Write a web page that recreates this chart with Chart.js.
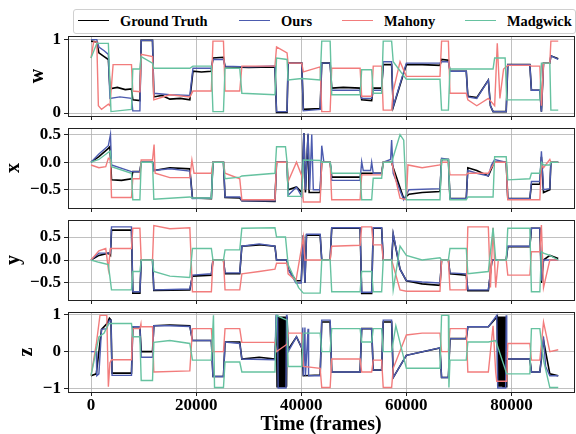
<!DOCTYPE html>
<html><head><meta charset="utf-8">
<script src="https://cdn.jsdelivr.net/npm/chart.js@4.4.1/dist/chart.umd.min.js"></script>
<style>
html,body{margin:0;padding:0;background:#fff;}
#wrap{position:relative;width:576px;height:434px;overflow:hidden;background:#fff;}
#wrap canvas{position:absolute;left:0;top:0;}
.legbox{position:absolute;left:73px;top:9px;width:503px;height:25px;border:1px solid #d0d0d0;border-radius:3px;background:#fff;box-sizing:border-box;}
.ls{position:absolute;height:0;border-top:1.3px solid;top:20px;width:31px;}
.lt{position:absolute;top:12px;font:bold 14.4px "Liberation Serif","Times New Roman",serif;line-height:18px;white-space:nowrap;color:#000;}
</style></head>
<body><div id="wrap">
<div class="legbox"></div>
<div class="ls" style="left:78px;border-color:#000000"></div><div class="lt" style="left:120px">Ground Truth</div>
<div class="ls" style="left:239px;border-color:#4C5BAF"></div><div class="lt" style="left:281px">Ours</div>
<div class="ls" style="left:342px;border-color:#F27C7C"></div><div class="lt" style="left:384px">Mahony</div>
<div class="ls" style="left:465px;border-color:#66C2A0"></div><div class="lt" style="left:507px">Madgwick</div>
</div>
<script>
const seriesNames = ['Ground Truth','Ours','Mahony','Madgwick'];
const seriesColors = ['#000000','#4C5BAF','#F27C7C','#66C2A0'];
const xTickValues = [0,20000,40000,60000,80000];
const xTickLabels = ['0','20000','40000','60000','80000'];
const wTickValues = [0,1]; const wTickLabels = ['0','1'];
const xqTickValues = [-0.5,0,0.5]; const xqTickLabels = ['\u22120.5','0.0','0.5'];
const yqTickValues = [-0.5,0,0.5]; const yqTickLabels = ['\u22120.5','0.0','0.5'];
const zTickValues = [-1,0,1]; const zTickLabels = ['\u22121','0','1'];

// ---- w component: [frame, value]
const wGroundTruth = [[0,0.98],[1100,0.97],[1500,0.82],[2500,0.77],[3300,0.73],[3600,0.33],[5000,0.35],[6500,0.32],[7700,0.33],[7950,0.18],[9300,0.17],[9550,0.99],[11700,0.99],[11950,0.22],[13500,0.24],[15000,0.19],[17000,0.2],[18800,0.18],[19400,0.57],[21000,0.56],[22900,0.57],[23200,0.75],[25200,0.76],[25500,0.63],[30000,0.62],[35000,0.63],[35300,0.01],[37300,0.01],[37500,0.68],[40100,0.68],[40400,0.05],[43600,0.06],[43900,0.68],[45500,0.68],[45800,0.34],[48000,0.35],[51200,0.34],[51500,0.18],[53400,0.17],[53700,0.34],[55300,0.34],[55600,0.66],[57200,0.66],[57500,0.08],[60000,0.66],[63000,0.66],[66400,0.65],[66700,0.73],[68000,0.72],[68300,0.57],[71400,0.57],[71700,0.23],[73400,0.21],[75600,0.45],[76000,0.1],[76500,0.02],[79000,0.02],[79300,0.66],[83500,0.66],[83800,0.31],[85400,0.31],[85700,0.02],[86100,0.68],[87300,0.68],[87500,0.78],[88900,0.74]];
const wOurs = [[0,1.0],[1100,1.0],[1500,0.9],[2500,0.85],[3300,0.8],[3600,0.2],[5500,0.22],[7700,0.2],[7950,0.03],[9300,0.03],[9550,0.99],[11700,0.99],[11950,0.27],[15000,0.25],[18800,0.24],[19400,0.61],[22900,0.61],[23200,0.73],[25200,0.73],[25500,0.64],[30000,0.63],[35000,0.64],[35300,0.02],[37300,0.02],[37500,0.68],[40100,0.68],[40400,0.03],[43600,0.05],[43900,0.68],[45500,0.68],[45800,0.31],[51200,0.31],[51500,0.2],[53400,0.2],[53700,0.31],[55300,0.31],[55600,0.7],[57200,0.7],[57500,0.09],[60000,0.68],[66400,0.68],[66700,0.7],[68000,0.7],[68300,0.57],[71400,0.57],[71700,0.22],[73400,0.2],[75600,0.45],[76000,0.1],[76500,0.02],[79000,0.02],[79300,0.66],[83500,0.66],[83800,0.31],[85400,0.31],[85700,0.02],[86100,0.68],[87300,0.68],[87500,0.78],[88900,0.73]];
const wMahony = [[0,0.75],[500,0.97],[1100,0.97],[1400,0.1],[2000,0.05],[3300,0.12],[3600,0.1],[4200,0.66],[7700,0.66],[7950,0.3],[9300,0.29],[9550,0.8],[11700,0.77],[11950,0.18],[15000,0.25],[18800,0.22],[19400,0.3],[22900,0.3],[23200,0.98],[25200,0.98],[25500,0.3],[28300,0.3],[28700,0.64],[35000,0.64],[35300,0.9],[37300,0.82],[37500,0.68],[40100,0.68],[40400,0.56],[43600,0.63],[43900,0.02],[45500,0.02],[45800,0.61],[51200,0.61],[51500,0.23],[53400,0.23],[53700,0.64],[55300,0.64],[55600,0.04],[57200,0.04],[57500,0.3],[58800,0.7],[60000,0.5],[66400,0.5],[66700,0.98],[68000,0.98],[68300,0.27],[71400,0.27],[71700,0.18],[73400,0.1],[75600,0.2],[76800,0.1],[77300,0.95],[77800,0.2],[78500,0.6],[79300,0.65],[83500,0.65],[83800,0.64],[85400,0.64],[85700,0.1],[86100,0.68],[87300,0.68],[87500,0.98],[88900,0.98]];
const wMadgwick = [[0,0.75],[1100,0.95],[3300,0.95],[3800,0.02],[7700,0.05],[7950,0.6],[9300,0.6],[9550,0.77],[11700,0.68],[11950,0.61],[18800,0.61],[19400,0.64],[22900,0.64],[23200,0.02],[25200,0.02],[25500,0.61],[28300,0.61],[28700,0.27],[35000,0.25],[35300,0.75],[37300,0.73],[37500,0.45],[40100,0.47],[43600,0.45],[43900,0.98],[45500,0.98],[45800,0.25],[51200,0.25],[51500,0.59],[53400,0.59],[53700,0.27],[55300,0.27],[55600,0.98],[57200,0.98],[57500,0.7],[60000,0.46],[66400,0.46],[66700,0.04],[68000,0.04],[68300,0.6],[76500,0.6],[76800,0.75],[78800,0.75],[79100,0.18],[85400,0.18],[85700,0.68],[87300,0.68],[87500,0.04],[88900,0.04]];

// ---- x component
const xGroundTruth = [[0,0],[1500,0.1],[3300,0.25],[3600,0.28],[3900,-0.32],[5800,-0.33],[7700,-0.3],[7950,-0.17],[9300,-0.17],[9550,0],[11700,0],[11950,-0.15],[15000,-0.1],[18800,-0.12],[19300,-0.65],[22900,-0.66],[23200,0],[25200,0],[25500,-0.64],[28300,-0.65],[28700,-0.7],[35000,-0.71],[35300,0],[37300,0],[37500,-0.5],[39100,-0.45],[40100,-0.55],[40500,0.53],[40800,-0.55],[41300,0.5],[41500,-0.55],[43600,-0.55],[43900,0],[45500,0],[45800,-0.27],[51200,-0.27],[51500,-0.2],[55300,-0.2],[55600,0],[57200,0],[57500,-0.1],[59500,-0.66],[60500,-0.58],[63000,-0.55],[66400,-0.53],[66700,0.05],[68000,0.05],[68300,-0.66],[71400,-0.66],[71700,-0.1],[73400,-0.15],[75600,-0.25],[76500,-0.05],[76800,0.0],[79000,0.0],[79300,-0.66],[83500,-0.66],[83800,-0.4],[85400,-0.4],[85700,0.1],[86100,-0.55],[87300,-0.5],[87500,0.0],[88900,0.0]];
const xOurs = [[0,0],[1500,0.15],[3300,0.3],[3700,0.5],[3900,-0.05],[7700,-0.17],[9300,-0.17],[9550,0],[11700,0],[11950,-0.15],[15000,-0.12],[18800,-0.16],[19300,-0.66],[22900,-0.65],[23200,0],[25200,0],[25500,-0.63],[28300,-0.63],[28700,-0.7],[35000,-0.7],[35300,0],[37300,0],[37500,-0.6],[39100,-0.45],[40100,-0.62],[40500,0.53],[40800,-0.5],[41300,0.52],[41600,-0.5],[42000,0.5],[42300,-0.5],[43600,-0.5],[43900,0.3],[44300,0],[45500,0],[45800,-0.33],[51200,-0.33],[51500,0.01],[51800,-0.15],[53200,-0.15],[53400,0.0],[53700,-0.2],[55300,-0.2],[55600,0],[57000,0.05],[57200,0.4],[57500,-0.2],[59500,-0.68],[60500,-0.5],[66400,-0.48],[66700,0.07],[68000,0.05],[68300,-0.66],[71400,-0.66],[71700,-0.15],[73400,-0.2],[75600,-0.25],[76200,-0.05],[76800,0.05],[79000,0.0],[79300,-0.66],[83500,-0.66],[83800,-0.35],[85400,-0.35],[85700,0.2],[86100,-0.5],[87300,-0.48],[87500,0.0],[88900,0.0]];
const xMahony = [[0,-0.05],[1500,-0.1],[2800,-0.08],[3300,0.07],[3700,0.05],[3900,-0.64],[7700,-0.64],[7950,-0.3],[9300,-0.3],[9550,0.04],[11700,0.04],[12000,0.32],[12200,-0.2],[15000,-0.28],[18800,-0.28],[19200,0.04],[19600,-0.2],[22900,-0.2],[23200,0],[25200,0],[25500,-0.2],[28300,-0.3],[28700,-0.68],[35000,-0.68],[35300,0],[37300,0],[37500,-0.35],[39100,0.0],[40100,-0.25],[40400,-0.72],[43600,-0.72],[43900,0],[45500,0],[45800,-0.68],[51200,-0.68],[51500,-0.23],[55300,-0.23],[55600,0],[57200,0],[58800,-0.65],[60000,-0.68],[60300,-0.05],[63000,-0.1],[66400,-0.05],[66700,0],[68000,0],[68300,-0.23],[71400,-0.23],[71700,-0.2],[75600,-0.2],[76800,0.0],[79000,0.0],[79300,-0.68],[85400,-0.68],[85700,-0.05],[86100,-0.1],[87300,0.05],[87500,0.0],[88900,0.0]];
const xMadgwick = [[0,0],[1500,0.05],[3300,0.18],[3700,0.2],[3900,-0.08],[7700,-0.2],[7950,-0.68],[9300,-0.68],[9550,0],[11700,0],[11950,-0.67],[18800,-0.63],[19300,-0.65],[22900,-0.65],[23200,0],[25200,0],[25500,-0.3],[28300,-0.27],[28700,-0.25],[35000,-0.2],[35300,0.28],[37000,0.28],[37300,0.0],[37500,-0.62],[40100,-0.62],[40400,0.04],[43600,0.03],[43900,0],[45500,0],[45800,-0.2],[51200,-0.2],[51500,-0.68],[53400,-0.68],[53700,-0.29],[55300,-0.29],[55600,0],[57200,0],[58800,0.5],[59500,0.4],[60000,-0.68],[66400,-0.68],[66700,0.05],[68000,0.05],[68300,-0.68],[71400,-0.68],[71700,-0.63],[76500,-0.63],[76800,0.1],[79000,0.1],[79300,-0.32],[83500,-0.3],[83800,-0.2],[85400,-0.2],[85700,0.0],[86100,-0.05],[87300,-0.05],[87500,0.0],[88900,0.0]];

// ---- y component
const yGroundTruth = [[0,0],[1500,0.1],[3300,0.15],[3700,0.1],[3900,0.65],[7700,0.65],[7950,-0.72],[9300,-0.72],[9550,0],[11700,0],[11950,-0.66],[18800,-0.65],[19300,-0.35],[22900,-0.33],[23200,0],[25200,0],[25500,-0.3],[28300,-0.3],[28700,0.3],[32000,0.33],[35000,0.3],[35300,0],[37300,0],[37500,-0.2],[39000,-0.45],[40000,-0.45],[40400,0.54],[40700,-0.5],[41000,0.54],[43600,0.54],[43900,0],[45500,0],[45800,0.69],[51200,0.69],[51500,-0.73],[53400,-0.73],[53700,0.69],[55300,0.69],[55600,0],[57200,0],[57500,0.55],[58800,-0.2],[60000,-0.45],[63000,-0.52],[66400,-0.55],[66700,0],[68000,0],[68300,-0.3],[71400,-0.33],[71700,-0.67],[75600,-0.67],[76300,0.0],[79000,0.0],[79300,0.29],[83500,0.29],[83800,0.69],[85400,0.69],[85700,-0.5],[86100,0],[87300,0.1],[88900,0.03]];
const yOurs = [[0,0],[1500,0.15],[3300,0.15],[3700,0.15],[3900,0.72],[7700,0.72],[7950,-0.69],[9300,-0.69],[9550,0],[11700,0],[11950,-0.65],[18800,-0.63],[19300,-0.33],[22900,-0.3],[23200,0],[25200,0],[25500,-0.28],[28300,-0.28],[28700,0.3],[32000,0.35],[35000,0.3],[35300,0],[37300,0],[37500,-0.2],[39000,-0.5],[40000,-0.5],[40400,0.54],[40700,-0.5],[41000,0.56],[43600,0.56],[43900,0],[45500,0],[45800,0.7],[51200,0.7],[51500,-0.7],[53400,-0.7],[53700,0.7],[55300,0.7],[55600,0],[57200,0],[57500,0.58],[58800,-0.2],[60000,-0.45],[63000,-0.48],[66400,-0.5],[66700,0],[68000,0],[68300,-0.28],[71400,-0.3],[71700,-0.65],[75600,-0.65],[76300,0.0],[79000,0.0],[79300,0.3],[83500,0.3],[83800,0.69],[85400,0.69],[85700,-0.45],[86100,0],[88900,0.0]];
const yMahony = [[0,0],[1500,0.2],[2800,0.25],[3300,-0.2],[3700,0.25],[7700,0.25],[7950,0.69],[9300,0.69],[9550,0],[11700,0],[11950,0.75],[15000,0.68],[18800,0.7],[19300,-0.69],[22900,-0.69],[23200,0],[25200,0],[25500,-0.65],[28300,-0.65],[28700,-0.3],[32000,-0.25],[35000,-0.2],[35300,-0.07],[37300,-0.07],[37500,-0.3],[39000,-0.45],[40400,0.5],[40700,0],[45500,0],[45800,0.3],[51200,0.32],[51500,0.72],[53400,0.72],[53700,0.33],[55300,0.33],[55600,0],[57200,0],[58800,-0.65],[60000,-0.68],[66400,-0.68],[66700,0],[68000,0],[68300,-0.65],[71400,-0.65],[71700,0.72],[75600,0.72],[76000,-0.6],[76500,0.7],[77000,-0.6],[77500,0.0],[79000,0.0],[79300,-0.33],[83500,-0.33],[83800,0.18],[85400,0.18],[85700,0.76],[86100,-0.6],[87300,0],[88900,0.0]];
const yMadgwick = [[0,0],[1500,-0.05],[3300,-0.1],[3900,-0.65],[7700,-0.65],[7950,-0.25],[9300,-0.25],[9550,0],[11700,0],[11950,-0.25],[15000,-0.35],[18800,-0.38],[19300,0.25],[22900,0.25],[23200,0],[25200,0],[25500,0.22],[28300,0.22],[28700,0.69],[35000,0.7],[35300,0.5],[37000,0.5],[37500,-0.1],[39500,-0.6],[40400,-0.72],[43600,-0.72],[43900,0],[45500,0],[45800,-0.69],[51200,-0.69],[51500,-0.25],[53400,-0.25],[53700,-0.69],[55300,-0.69],[55600,0],[57200,0],[57500,-0.65],[58800,0.3],[60000,0.1],[63000,0.0],[66400,0.05],[66700,0],[68000,0],[68300,0.25],[71400,0.25],[71700,-0.3],[75600,-0.25],[76500,0.7],[77000,0.0],[79000,0.0],[79300,0.69],[83500,0.69],[83800,-0.69],[85400,-0.69],[85700,0.18],[86100,0.15],[87300,0.1],[88900,0.0]];

// ---- z component
const zGroundTruth = [[0,-0.65],[1000,-0.6],[2000,0.6],[3000,0.75],[3500,0.9],[3800,0.85],[4000,-0.58],[7700,-0.58],[7950,0.67],[9300,0.67],[9550,0.0],[11700,0.0],[11950,0.7],[15000,0.72],[18800,0.7],[19300,0.3],[22900,0.3],[23200,-0.67],[25200,-0.67],[25500,0.26],[28300,0.26],[28700,-0.2],[32000,-0.15],[35000,-0.2],[35300,0.95],[35400,-0.95],[35500,0.95],[35600,-0.95],[35700,0.95],[35800,-0.95],[35900,0.95],[36000,-0.95],[36100,0.95],[36200,-0.95],[36300,0.95],[36400,-0.95],[36500,0.95],[36600,-0.95],[36700,0.95],[36800,-0.95],[36900,0.95],[37000,-0.95],[37100,0.95],[37200,-0.95],[37300,0.95],[37500,0.05],[39100,0.4],[40100,0.1],[40400,-0.65],[43600,-0.63],[43900,0.8],[45500,0.8],[45800,-0.55],[51200,-0.55],[51500,0.62],[53400,0.62],[53700,-0.5],[55300,-0.5],[55600,0.8],[57200,0.8],[57500,-0.7],[60000,-0.1],[66400,0.1],[66700,-0.7],[68000,-0.7],[68300,0.35],[71400,0.35],[71700,0.67],[75600,0.67],[77300,0.95],[77400,-0.95],[77500,0.95],[77600,-0.95],[77700,0.95],[77800,-0.95],[77900,0.95],[78000,-0.95],[78100,0.95],[78200,-0.95],[78300,0.95],[78400,-0.95],[78500,0.95],[78600,-0.95],[78700,0.95],[78800,-0.95],[78900,0.95],[79000,-0.95],[79100,-0.2],[83500,-0.2],[83800,-0.55],[85400,-0.55],[86100,0.3],[87300,-0.6],[88900,-0.65]];
const zOurs = [[0,0],[1000,0],[1100,-0.65],[1500,-0.6],[2000,0.6],[3000,0.62],[3500,0.85],[3800,0.85],[4000,-0.64],[7700,-0.64],[7950,0.67],[9300,0.67],[9550,-0.15],[11700,-0.15],[11950,0.7],[15000,0.7],[18800,0.68],[19300,0.3],[22900,0.3],[23200,-0.67],[25200,-0.67],[25500,0.26],[28300,0.22],[28700,-0.2],[35000,-0.22],[35200,0.98],[35500,0.98],[35600,-0.98],[37100,-0.98],[37200,0.98],[37300,0.98],[37500,0.0],[39100,0.4],[40100,0.1],[40300,0.65],[40400,-0.65],[40700,0.65],[40800,-0.65],[41300,0.62],[41400,-0.65],[43600,-0.65],[43900,0.85],[45500,0.85],[45800,-0.55],[51200,-0.55],[51500,0.62],[53400,0.62],[53700,-0.5],[55300,-0.5],[55600,0.85],[57200,0.85],[57500,-0.7],[60000,-0.1],[66400,0.1],[66700,-0.7],[68000,-0.7],[68300,0.35],[71400,0.35],[71700,0.67],[75600,0.67],[77200,0.98],[77400,-0.98],[78900,-0.98],[79000,0.98],[79100,-0.2],[83500,-0.2],[83800,-0.55],[85400,-0.55],[86100,0.4],[86500,-0.4],[87300,-0.65],[88900,-0.65]];
const zMahony = [[0,-0.65],[1000,0.2],[1700,0.98],[3000,0.98],[3300,-0.95],[3600,-0.3],[3900,-0.22],[7700,-0.22],[7950,0.62],[9300,0.62],[9500,0.75],[9550,0.67],[11700,0.67],[11950,-0.55],[18800,-0.52],[19300,0.62],[22900,0.62],[23200,0.0],[25200,0.0],[25500,0.62],[28300,0.62],[28700,0.25],[35000,0.25],[35300,0.0],[37300,0.2],[37500,0.5],[40100,0.5],[40400,-0.4],[43600,-0.45],[43900,-0.97],[45500,-0.97],[45800,-0.2],[51200,-0.2],[51500,-0.55],[53400,-0.55],[53700,-0.23],[55300,-0.23],[55600,-0.97],[57200,-0.97],[57500,-0.45],[60000,0.45],[63000,0.5],[66400,0.5],[66700,0.0],[68000,0.0],[68300,0.62],[71400,0.62],[71700,-0.55],[75600,-0.55],[76500,0.7],[77000,-0.55],[77200,-0.8],[79100,-0.8],[79300,0.22],[83500,0.22],[83800,-0.23],[85400,-0.23],[86100,0.8],[87300,0.0],[88900,0.05]];
const zMadgwick = [[0,-0.65],[1500,0.4],[2500,0.5],[3300,0.75],[3900,0.76],[7700,0.76],[7950,0.4],[9300,0.4],[9550,-0.78],[11700,-0.78],[11950,0.25],[15000,0.3],[18800,0.22],[19300,-0.23],[22900,-0.23],[23300,0.98],[23500,-0.97],[25200,-0.97],[25500,-0.28],[28300,-0.28],[28700,-0.55],[35000,-0.55],[35300,0.98],[36500,0.9],[37300,0.85],[37500,-0.4],[40100,-0.4],[40400,0.5],[43600,0.5],[43900,0.0],[45500,0.0],[45800,0.62],[51200,0.62],[51500,0.26],[53400,0.26],[53700,0.62],[55300,0.62],[55600,0.0],[57200,0.0],[58000,0.7],[60000,-0.45],[66400,-0.45],[66700,0.98],[68000,0.98],[68100,-0.97],[68300,-0.23],[71400,-0.23],[71700,0.26],[75600,0.26],[77000,0.3],[79100,-0.6],[83500,-0.6],[83800,0.62],[85400,0.62],[86100,-0.23],[87300,-0.97],[88900,-0.97]];

const FONT = '"Liberation Serif","Times New Roman",serif';
const panels = [
  {title:'w', data:[wGroundTruth,wOurs,wMahony,wMadgwick], min:-0.04, max:1.05, tv:wTickValues, tl:wTickLabels, top:36, padL:26},
  {title:'x', data:[xGroundTruth,xOurs,xMahony,xMadgwick], min:-0.83, max:0.62, tv:xqTickValues, tl:xqTickLabels, top:128, padL:2},
  {title:'y', data:[yGroundTruth,yOurs,yMahony,yMadgwick], min:-0.87, max:0.87, tv:yqTickValues, tl:yqTickLabels, top:220, padL:2},
  {title:'z', data:[zGroundTruth,zOurs,zMahony,zMadgwick], min:-1.09, max:1.07, tv:zTickValues, tl:zTickLabels, top:312, padL:15}
];
const PH = 80;
const framePlugin = {
  id:'frame',
  afterDraw(chart){
    const a = chart.chartArea, c = chart.ctx;
    c.save(); c.strokeStyle='#222'; c.lineWidth=1;
    c.strokeRect(Math.round(a.left)+0.5, Math.round(a.top)+0.5, Math.round(a.right-a.left), Math.round(a.bottom-a.top));
    c.restore();
  }
};
const wrap = document.getElementById('wrap');
panels.forEach((p, i) => {
  const cv = document.createElement('canvas');
  cv.width = 576; cv.height = 434;
  wrap.appendChild(cv);
  const last = i === panels.length - 1;
  const bottom = p.top + PH;
  const xH = last ? 434 - bottom : 6;
  new Chart(cv, {
    type:'line',
    data:{datasets: p.data.map((arr,k)=>({
      label: seriesNames[k],
      data: arr.map(([x,y])=>({x,y})),
      borderColor: seriesColors[k], borderWidth: k===0?1.6:1.4,
      pointRadius:0, tension:0, fill:false, order:4-k
    }))},
    options:{
      responsive:false, maintainAspectRatio:false, animation:false, devicePixelRatio:1,
      layout:{padding:{left:p.padL, right:2, top:p.top, bottom: last ? 0 : 434 - bottom - xH}},
      plugins:{legend:{display:false}, tooltip:{enabled:false}},
      scales:{
        x:{type:'linear', min:-4380, max:91900,
          afterBuildTicks:s=>{ s.ticks = xTickValues.map(v=>({value:v})); },
          afterFit:s=>{ s.height = xH; },
          grid:{color:'#b0b0b0', lineWidth:0.8, tickLength:4, tickColor:'#222', tickWidth:1},
          border:{display:true, color:'#222', width:1},
          ticks:{display:last, autoSkip:false, maxRotation:0, padding:-1, color:'#000',
            font:{family:FONT, size:17, weight:'bold'},
            callback:v=>{ const j = xTickValues.indexOf(v); return j>=0 ? xTickLabels[j] : ''; }},
          title:{display:last, text:'Time (frames)', color:'#000', padding:{top:0,bottom:-1},
            font:{family:FONT, size:20, weight:'bold', lineHeight:1}}
        },
        y:{type:'linear', min:p.min, max:p.max,
          afterBuildTicks:s=>{ s.ticks = p.tv.map(v=>({value:v})); },
          afterFit:s=>{ s.width = 68 - p.padL; },
          grid:{color:'#b0b0b0', lineWidth:0.8, tickLength:4, tickColor:'#222', tickWidth:1},
          border:{display:true, color:'#222', width:1},
          ticks:{padding:3, color:'#000', font:{family:FONT, size:17, weight:'bold'},
            callback:v=>{ const j = p.tv.indexOf(v); return j>=0 ? p.tl[j] : ''; }},
          title:{display:true, text:p.title, color:'#000', padding:0,
            font:{family:FONT, size:20, weight:'bold'}}
        }
      }
    },
    plugins:[framePlugin]
  });
});
</script>
</body></html>
